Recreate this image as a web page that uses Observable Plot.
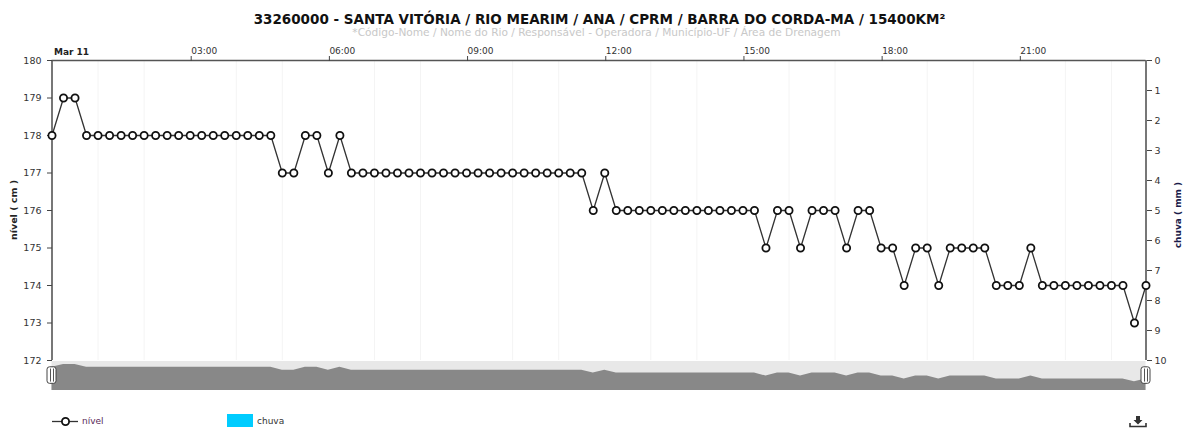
<!DOCTYPE html>
<html><head><meta charset="utf-8">
<script src="https://cdn.jsdelivr.net/npm/d3@7"></script>
<script src="https://cdn.jsdelivr.net/npm/@observablehq/plot@0.6"></script>
<style>
html,body{margin:0;padding:0;background:#fff;width:1192px;height:431px;overflow:hidden;font-family:"DejaVu Sans",sans-serif}
#root{position:relative;width:1192px;height:431px}
#root>*{position:absolute}
#title{left:0;width:1199px;top:11px;text-align:center;font:bold 13.5px "DejaVu Sans";color:#111}
#sub{left:0;width:1193px;top:26px;text-align:center;font:10.6px "DejaVu Sans";color:#c8c8c8}
.lg{font:9px "DejaVu Sans";color:#333;top:416px}
svg text{font-family:"DejaVu Sans"}
</style></head><body><div id="root"></div>
<script>
const titleText = "33260000 - SANTA VITÓRIA / RIO MEARIM / ANA / CPRM / BARRA DO CORDA-MA / 15400KM²";
const subtitleText = "*Código-Nome / Nome do Rio / Responsável - Operadora / Município-UF / Área de Drenagem";
const stepMinutes = 15;
const nivel = [178,179,179,178,178,178,178,178,178,178,178,178,178,178,178,178,178,178,178,178,
 177,177,178,178,177,178,177,177,177,177,177,177,177,177,177,177,177,177,177,177,177,177,177,177,177,177,177,
 176,177,176,176,176,176,176,176,176,176,176,176,176,176,176,
 175,176,176,175,176,176,176,175,176,176,175,175,174,175,175,174,175,175,175,175,
 174,174,174,175,174,174,174,174,174,174,174,174,173,174];
const chuvaTicks = [0,1,2,3,4,5,6,7,8,9,10];
const nivelTicks = [172,173,174,175,176,177,178,179,180];
const labelHours = [3,6,9,12,15,18,21];
const gridHours = [1,2,4,5,7,8,10,11,13,14,16,17,19,20,22,23];

const day = h => new Date(Date.UTC(2024,2,11,0,h*60));
const rows = nivel.map((v,i)=>({t:day(i*stepMinutes/60),v}));
const start = rows[0].t, end = rows[rows.length-1].t;
const chuvaToNivel = c => 180 - c*0.8;
const nivelToChuva = n => Math.round((180-n)/0.8);
const xOpts = {domain:[start,end],range:[51.5,1145.5],type:"utc"};

const root = document.getElementById("root");
const add = (html,cls,id)=>{const d=document.createElement("div");d.innerHTML=html;if(cls)d.className=cls;if(id)d.id=id;root.append(d);return d};
add(titleText,"","title"); add(subtitleText,"","sub");

const main = Plot.plot({
  width:1192,height:372,marginLeft:52,marginRight:46,marginTop:60,marginBottom:12,
  style:{background:"transparent",fontSize:"9px",fontFamily:"DejaVu Sans"},
  x:{...xOpts,axis:null},
  y:{domain:[172,180],range:[360,60],axis:null},
  marks:[
    Plot.ruleX(gridHours.map(day),{stroke:"#f4f4f4",y1:172,y2:180}),
    Plot.ruleX([start],{stroke:"#777",strokeWidth:2,y1:172,y2:180}),
    Plot.ruleX([end],{stroke:"#777",strokeWidth:2,y1:172,y2:180}),
    Plot.ruleY([180],{stroke:"#555",strokeWidth:1.5,x1:start,x2:end}),
    Plot.axisX(labelHours.map(day),{anchor:"top",tickSize:5,tickPadding:2,textAnchor:"start",dx:1,
      label:null,tickFormat:d3.utcFormat("%H:%M"),stroke:"#444",fill:"#333",fontSize:9}),
    Plot.text(["Mar 11"],{x:()=>start,y:()=>180,text:d=>d,textAnchor:"start",dx:2,dy:-8,fontWeight:"bold",fill:"#222",fontSize:9}),
    Plot.axisY(nivelTicks,{anchor:"left",tickSize:5,tickPadding:6,label:null,stroke:"#444",fill:"#333",fontSize:9.5}),
    Plot.axisY(chuvaTicks.map(chuvaToNivel),{anchor:"right",tickSize:5,tickPadding:3,label:null,tickFormat:nivelToChuva,stroke:"#444",fill:"#333",fontSize:9.5}),
    Plot.line(rows,{x:"t",y:"v",stroke:"#333",strokeWidth:1.3}),
    Plot.dot(rows,{x:"t",y:"v",r:3.6,fill:"#fff",stroke:"#111",strokeWidth:1.8})
  ]
});
main.style.left="0";main.style.top="0";root.append(main);

const nav = Plot.plot({
  width:1192,height:29,marginLeft:52,marginRight:46,marginTop:0,marginBottom:0,
  style:{background:"transparent"},
  x:{...xOpts,axis:null},
  y:{domain:[170,180],range:[29,0],axis:null},
  marks:[
    Plot.areaY([{t:start},{t:end}],{x:"t",y1:()=>170,y2:()=>180,fill:"#e8e8e8"}),
    Plot.areaY(rows,{x:"t",y1:()=>170,y2:"v",fill:"#888"}),
  ]
});
nav.style.left="0";nav.style.top="361px";root.append(nav);

const hand = Plot.plot({
  width:1192,height:29,marginLeft:52,marginRight:46,marginTop:0,marginBottom:0,
  style:{background:"transparent",overflow:"visible"},
  x:{...xOpts,axis:null},
  y:{domain:[170,180],range:[29,0],axis:null},
  marks:[
    Plot.rect([start,end],{x1:d=>d,x2:d=>d,y1:()=>172.3,y2:()=>178,insetLeft:-4.5,insetRight:-4.5,rx:2.5,fill:"#fff",stroke:"#444",strokeWidth:1}),
    Plot.ruleX([start,end],{y1:172.9,y2:177.4,dx:-1.5,stroke:"#555"}),
    Plot.ruleX([start,end],{y1:172.9,y2:177.4,dx:1.5,stroke:"#555"}),
  ]
});
hand.style.left="0";hand.style.top="361px";root.append(hand);

// axis titles
const vt=(txt,x,y,c,fs)=>{const d=add(txt);d.style.cssText=`left:${x-60}px;top:${y-6}px;width:120px;text-align:center;font:bold ${fs}px "DejaVu Sans";color:${c};transform:rotate(-90deg);line-height:12px;transform-origin:center;white-space:pre`;};
vt("nível ( cm )",14,210,"#222",9.5); vt("chuva ( mm )",1178,214.500,"#1a1a4a",9);

// legend
const lgd = Plot.plot({
  width:40,height:14,margin:0,style:{background:"transparent"},
  x:{domain:[0,1],range:[0,26],axis:null},y:{domain:[0,1],range:[14,0],axis:null},
  marks:[Plot.ruleY([0.5],{x1:0,x2:1,stroke:"#333",strokeWidth:1.3}),
         Plot.dot([0.5],{x:d=>d,y:()=>0.5,r:3.6,fill:"#fff",stroke:"#111",strokeWidth:1.8})]
});
lgd.style.left="52px";lgd.style.top="414px";root.append(lgd);
const l1=add("nível","lg");l1.style.left="82px";l1.style.color="#5a2a5a";
const sw=add("");sw.style.cssText="left:227px;top:414px;width:26px;height:13px;background:#00ccff";
const l2=add("chuva","lg");l2.style.left="257px";
const ic=add('<svg width="18" height="14" viewBox="0 0 18 14"><path d="M1 8v3.500h16V8" fill="none" stroke="#333" stroke-width="1.6"/><path d="M7 1h4v4h2.500L9 9.500 4.500 5H7z" fill="#333"/></svg>');
ic.style.cssText="left:1129px;top:415px;line-height:0";
</script></body></html>
